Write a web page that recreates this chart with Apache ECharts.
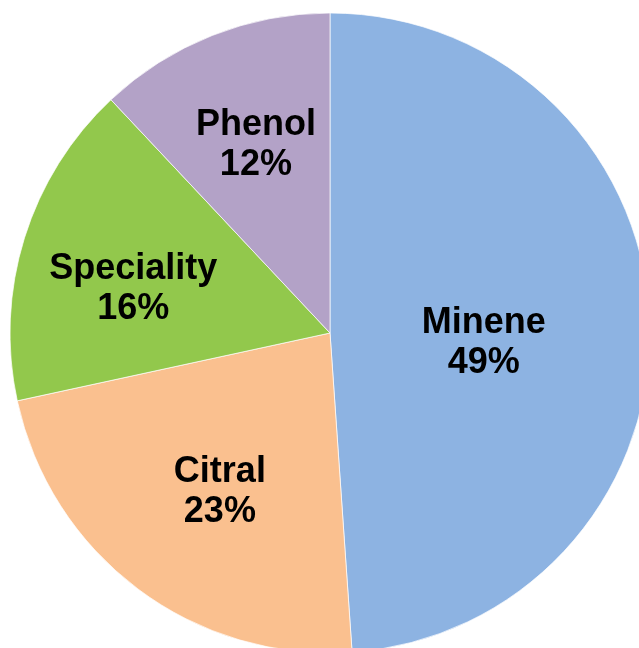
<!DOCTYPE html>
<html>
<head>
<meta charset="utf-8">
<script src="https://cdn.jsdelivr.net/npm/echarts@6/dist/echarts.min.js"></script>
<style>
  html, body { margin: 0; padding: 0; background: #fff; }
  #chart { width: 639px; height: 648px; }
</style>
</head>
<body>
<div id="chart"></div>
<script>
// slice data, clockwise from 12 o'clock
const names = ['Minene', 'Citral', 'Speciality', 'Phenol']
const values = [48.9, 22.7, 16.4, 12.0]
const colors = ['#8db3e2', '#fac08f', '#92c84c', '#b3a2c7']
// label placement: angle clockwise from top (deg) and distance from centre (px)
const labelAngle = [93, 215, 283, 338.7]
const labelDist = [154, 192, 202, 204]

const cx = 330
const cy = 333

const chart = echarts.init(document.getElementById('chart'))

chart.setOption({
  animation: false,
  series: [
    {
      type: 'pie',
      center: [cx, cy],
      radius: 320,
      startAngle: 90,
      clockwise: true,
      itemStyle: {
        borderColor: '#ffffff',
        borderWidth: 0.7
      },
      label: {
        show: true,
        position: 'inside',
        formatter: p => p.name + '\n' + Math.round(p.percent) + '%',
        fontFamily: 'Liberation Sans, Arial, sans-serif',
        fontWeight: 'bold',
        fontSize: 36,
        lineHeight: 40,
        color: '#000'
      },
      labelLine: { show: false },
      emphasis: { disabled: true },
      labelLayout: function (params) {
        const i = params.dataIndex
        const a = labelAngle[i] * Math.PI / 180
        return {
          x: cx + labelDist[i] * Math.sin(a),
          y: cy - labelDist[i] * Math.cos(a) + 2,
          align: 'center',
          verticalAlign: 'middle'
        }
      },
      data: names.map((n, i) => ({
        name: n,
        value: values[i],
        itemStyle: { color: colors[i] }
      }))
    }
  ]
})
</script>
</body>
</html>
